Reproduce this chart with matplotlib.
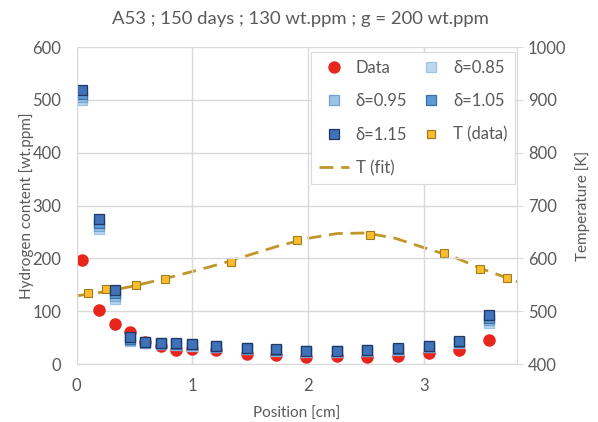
import numpy as np
import matplotlib
matplotlib.use("Agg")
import matplotlib.pyplot as plt
from matplotlib.lines import Line2D

plt.rcParams['font.family'] = ['Lato', 'DejaVu Sans']

# Hydrogen profile (measured) and model results for several delta values
pos = [0.05, 0.19, 0.33, 0.46, 0.59, 0.73, 0.86, 1.00, 1.20, 1.47, 1.72, 1.98,
       2.25, 2.51, 2.77, 3.04, 3.30, 3.56]
h_data = [197, 102, 75, 61, 42, 35, 26, 28, 26, 19, 18, 14, 15, 13, 16, 20, 26, 46]
d085 = [499, 255, 124, 43, 39, 37, 36, 35, 32, 28, 25, 23, 23, 24, 27, 32, 40, 78]
d095 = [505, 261, 129, 45, 40, 38, 37, 36, 33, 29, 26, 24, 24, 25, 28, 33, 41, 83]
d105 = [512, 267, 134, 48, 41, 39, 38, 37, 34, 30, 27, 25, 25, 26, 29, 34, 42, 88]
d115 = [518, 274, 140, 51, 42, 40, 39, 38, 35, 31, 28, 25, 25, 27, 30, 35, 44, 93]

# Temperature measurements and fit
t_pos = [0.10, 0.25, 0.51, 0.76, 1.33, 1.90, 2.53, 3.17, 3.48, 3.71]
t_data = [534, 542, 550, 561, 594, 634, 645, 611, 580, 563]
fit_pos = [0.0, 0.25, 0.5, 0.75, 1.0, 1.25, 1.5, 1.75, 2.0, 2.25, 2.5, 2.75,
           3.0, 3.25, 3.5, 3.75, 3.8]
fit_T = [529, 537, 548, 561, 575, 590, 607, 624, 638, 647, 648, 638,
         620, 603, 580, 560, 556]

grey = '#595959'
grid_c = '#d9d9d9'

# marker styles: (face, edge)
sty = {
    'Data': ('#e8251c', '#e8251c'),
    'd085': ('#bdd7ee', '#9dc3e6'),
    'd095': ('#9dc3e6', '#6fa3d8'),
    'd105': ('#5b9bd5', '#3d6fa8'),
    'd115': ('#3f72b8', '#1f3864'),
    'T': ('#fbbd2e', '#a07c1e'),
}
fit_c = '#c0962a'
fit_ls = (0, (5, 2.8))

fig = plt.figure(figsize=(5.98, 4.22), dpi=100)
ax = fig.add_axes([0.128, 0.1374, 0.7365, 0.7512])
ax2 = ax.twinx()

# temperature (secondary axis)
ax2.plot(fit_pos, fit_T, ls=fit_ls, color=fit_c, lw=2, zorder=2)
ax2.plot(t_pos, t_data, ls='none', marker='s', ms=6, mfc=sty['T'][0],
         mec=sty['T'][1], mew=0.8, zorder=3)

# hydrogen (primary axis), drawn on top
ax.set_zorder(ax2.get_zorder() + 1)
ax.patch.set_visible(False)
ax.plot(pos, h_data, ls='none', marker='o', ms=8, mfc=sty['Data'][0], mec=sty['Data'][1])
for key, vals in [('d085', d085), ('d095', d095), ('d105', d105), ('d115', d115)]:
    ax.plot(pos, vals, ls='none', marker='s', ms=6.8, mfc=sty[key][0],
            mec=sty[key][1], mew=0.9)

ax.set_xlim(0, 3.8)
ax.set_ylim(0, 600)
ax2.set_ylim(400, 1000)
ax.set_xticks([0, 1, 2, 3])
ax.set_yticks(range(0, 601, 100))
ax2.set_yticks(range(400, 1001, 100))

ax.grid(True, color=grid_c, lw=1)
ax.set_axisbelow(True)
for a in (ax, ax2):
    for s in a.spines.values():
        s.set_visible(False)
ax2.spines['right'].set_visible(True)
ax2.spines['right'].set_color(grid_c)
ax.spines['bottom'].set_visible(True)
ax.spines['bottom'].set_color(grid_c)
ax.spines['left'].set_visible(True)
ax.spines['left'].set_color(grid_c)

ax.tick_params(axis='x', length=0, labelsize=12, labelcolor=grey, pad=10)
ax.tick_params(axis='y', length=0, labelsize=12, labelcolor=grey, pad=11)
ax2.tick_params(axis='y', length=4, color=grid_c, labelsize=12, labelcolor=grey, pad=4)

ax.set_xlabel('Position [cm]', fontsize=11, color=grey, labelpad=9)
ax.set_ylabel('Hydrogen content [wt.ppm]', fontsize=11, color=grey, labelpad=-1)
ax2.set_ylabel('Temperature [K]', fontsize=11, color=grey, labelpad=6)
fig.suptitle('A53 ; 150 days ; 130 wt.ppm ; g = 200 wt.ppm', fontsize=13.3,
             color=grey, x=0.502, y=0.975)

def mk(key, marker='s', ms=6.8):
    return Line2D([], [], ls='none', marker=marker, ms=ms, mfc=sty[key][0],
                  mec=sty[key][1], mew=0.9)

handles = [mk('Data', 'o', 8), mk('d085'), mk('d095'), mk('d105'), mk('d115'),
           mk('T', ms=6), Line2D([], [], ls=fit_ls, color=fit_c, lw=2)]
labels = ['Data', 'δ=0.85', 'δ=0.95', 'δ=1.05', 'δ=1.15', 'T (data)', 'T (fit)']
# column-major order so rows read Data/δ0.85, δ0.95/δ1.05, δ1.15/T(data), T(fit)
order = [0, 2, 4, 6, 1, 3, 5]
leg = ax.legend([handles[i] for i in order], [labels[i] for i in order], ncol=2,
                loc='upper right', bbox_to_anchor=(0.9955, 0.984), borderaxespad=0,
                fontsize=12, frameon=True, fancybox=False, edgecolor=grid_c,
                framealpha=1, labelspacing=1.05, columnspacing=0.55,
                handlelength=1.8, handletextpad=0.4, borderpad=0.45)
leg.get_frame().set_linewidth(0.8)
for t in leg.get_texts():
    t.set_color(grey)

fig.savefig('out.png', dpi=100)
